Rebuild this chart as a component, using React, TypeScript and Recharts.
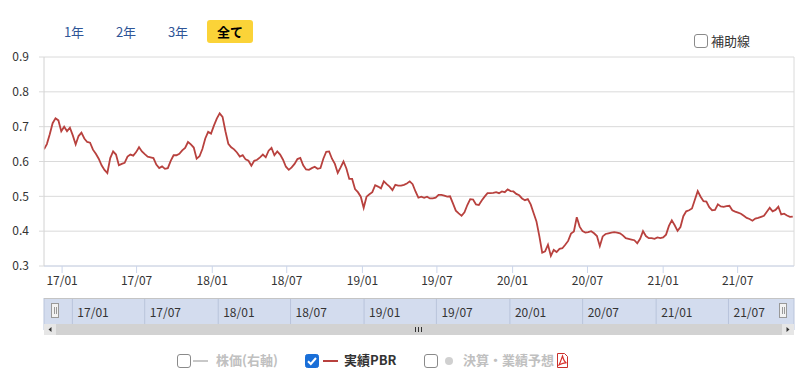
import { CartesianGrid, Line, LineChart, ReferenceLine, XAxis, YAxis } from 'recharts'

// weekly closing PBR, first point on START
const START = Date.UTC(2016, 10, 18)
const WEEK = 7 * 24 * 3600 * 1000

const PBR = [
  0.635, 0.65, 0.678, 0.71, 0.724, 0.718, 0.687, 0.7, 0.687, 0.697,
  0.675, 0.649, 0.673, 0.683, 0.666, 0.656, 0.654, 0.634, 0.622, 0.608,
  0.589, 0.576, 0.567, 0.61, 0.629, 0.62, 0.589, 0.593, 0.596, 0.614,
  0.62, 0.617, 0.627, 0.641, 0.629, 0.621, 0.614, 0.612, 0.61, 0.591,
  0.581, 0.586, 0.579, 0.581, 0.602, 0.618, 0.618, 0.622, 0.632, 0.639,
  0.656, 0.649, 0.64, 0.608, 0.615, 0.636, 0.666, 0.685, 0.68, 0.703,
  0.723, 0.738, 0.728, 0.687, 0.651, 0.641, 0.635, 0.626, 0.614, 0.618,
  0.606, 0.602, 0.588, 0.602, 0.605, 0.612, 0.62, 0.612, 0.631, 0.639,
  0.618, 0.629, 0.62, 0.605, 0.585, 0.576, 0.583, 0.593, 0.607, 0.61,
  0.589, 0.577, 0.576, 0.581, 0.585, 0.579, 0.581, 0.608, 0.628, 0.629,
  0.608, 0.593, 0.567, 0.583, 0.6, 0.58, 0.55, 0.55, 0.521, 0.512,
  0.499, 0.467, 0.499, 0.506, 0.512, 0.532, 0.528, 0.523, 0.543, 0.535,
  0.528, 0.518, 0.533, 0.531, 0.531, 0.533, 0.537, 0.543, 0.535, 0.514,
  0.496, 0.499, 0.496, 0.499, 0.494, 0.494, 0.496, 0.504, 0.504, 0.502,
  0.499, 0.5, 0.48, 0.459, 0.451, 0.444, 0.454, 0.475, 0.492, 0.491,
  0.477, 0.475, 0.488, 0.499, 0.509, 0.509, 0.51, 0.512, 0.509, 0.514,
  0.512, 0.52, 0.515, 0.514, 0.507, 0.503, 0.494, 0.489, 0.492, 0.477,
  0.452, 0.428, 0.386, 0.338, 0.342, 0.361, 0.329, 0.346, 0.34, 0.349,
  0.351, 0.361, 0.372, 0.393, 0.399, 0.44, 0.413, 0.4, 0.396, 0.397,
  0.4, 0.394, 0.386, 0.357, 0.385, 0.392, 0.394, 0.396, 0.397, 0.396,
  0.394, 0.388, 0.38, 0.378, 0.376, 0.374, 0.365, 0.378, 0.4, 0.386,
  0.38, 0.38, 0.378, 0.382, 0.38, 0.382, 0.39, 0.415, 0.431, 0.417,
  0.401, 0.412, 0.443, 0.457, 0.46, 0.465, 0.49, 0.515, 0.499, 0.486,
  0.485, 0.469, 0.46, 0.461, 0.477, 0.471, 0.47, 0.472, 0.473, 0.46,
  0.456, 0.453, 0.45, 0.444, 0.438, 0.435, 0.43, 0.436, 0.438, 0.441,
  0.444, 0.456, 0.467, 0.457, 0.461, 0.47, 0.448, 0.45, 0.445, 0.441, 0.442,
]

const Y_TICKS = [0.3, 0.4, 0.5, 0.6, 0.7, 0.8, 0.9]
const X_TICKS = [
  '2017-01-01', '2017-07-01', '2018-01-01', '2018-07-01', '2019-01-01',
  '2019-07-01', '2020-01-01', '2020-07-01', '2021-01-01', '2021-07-01',
]
const RANGES = ['1年', '2年', '3年', '全て']

const X_MIN = START
const X_MAX = Date.UTC(2021, 10, 15)
const NAV_MIN = Date.UTC(2016, 9, 22)
const NAV_MAX = Date.UTC(2021, 11, 12)

const data = PBR.map((v, i) => ({ t: START + i * WEEK, pbr: v }))
const xTicks = X_TICKS.map((d) => Date.parse(d + 'T00:00:00Z'))

const fmtMonth = (t: number) => {
  const d = new Date(t)
  return `${String(d.getUTCFullYear()).slice(2)}/${String(d.getUTCMonth() + 1).padStart(2, '0')}`
}

const FONT = '"Noto Sans CJK JP", "Noto Sans", sans-serif'

function Box({ checked, x, y }: { checked?: boolean; x: number; y: number }) {
  return (
    <svg width={14} height={14} style={{ position: 'absolute', left: x, top: y }}>
      {checked ? (
        <>
          <rect x={0.5} y={0.5} width={13} height={13} rx={2} fill="#1a6fd8" stroke="#1a6fd8" />
          <path d="M3 7.2 L5.8 10 L11 4" stroke="#fff" strokeWidth={2} fill="none" />
        </>
      ) : (
        <rect x={0.5} y={0.5} width={13} height={13} rx={2.5} fill="#fff" stroke="#8a8a8a" />
      )}
    </svg>
  )
}

export default function App() {
  return (
    <div
      style={{
        position: 'absolute',
        left: 0,
        top: 0,
        width: 800,
        height: 376,
        background: '#fff',
        fontFamily: FONT,
        overflow: 'hidden',
      }}
    >
      {/* range buttons */}
      {RANGES.map((r, i) => {
        const active = r === '全て'
        const left = [62, 114, 166, 207][i]
        return (
          <div
            key={r}
            style={{
              position: 'absolute',
              left,
              top: 20,
              width: active ? 46 : 24,
              height: 23,
              lineHeight: '23px',
              textAlign: 'center',
              fontSize: 13,
              borderRadius: 3,
              background: active ? '#fbd338' : 'transparent',
              color: active ? '#000' : '#2f5597',
              fontWeight: active ? 700 : 400,
            }}
          >
            {r}
          </div>
        )
      })}

      <Box x={694} y={34} />
      <div style={{ position: 'absolute', left: 711, top: 32, fontSize: 13, color: '#333', lineHeight: '18px' }}>
        補助線
      </div>

      <div style={{ position: 'absolute', left: 0, top: 0 }}>
        <LineChart width={800} height={300} data={data} margin={{ top: 57, right: 6, bottom: 4, left: 4 }}>
          <CartesianGrid vertical={false} stroke="#dadada" />
          <XAxis
            dataKey="t"
            type="number"
            domain={[X_MIN, X_MAX]}
            ticks={xTicks}
            interval={0}
            tickFormatter={fmtMonth}
            height={30}
            tickSize={7}
            tickMargin={3}
            stroke="#ccd6eb"
            tick={{ fill: '#333', fontSize: 12 }}
            allowDataOverflow
          />
          <YAxis
            domain={[0.3, 0.9]}
            ticks={Y_TICKS}
            width={40}
            tickSize={5}
            tickMargin={10}
            axisLine={{ stroke: '#d2d2d2' }}
            tickLine={{ stroke: '#dadada' }}
            tickFormatter={(v: number) => v.toFixed(1)}
            tick={{ fill: '#333', fontSize: 12 }}
          />
          <ReferenceLine x={X_MAX} stroke="#dadada" />
          <Line
            dataKey="pbr"
            type="linear"
            stroke="#b8413e"
            strokeWidth={1.8}
            dot={false}
            isAnimationActive={false}
          />
        </LineChart>
      </div>

      {/* navigator */}
      <div style={{ position: 'absolute', left: 0, top: 290 }}>
        <LineChart width={800} height={40} data={data} margin={{ top: 8, right: 6, bottom: 0, left: 44 }}>
          <CartesianGrid horizontal={false} fill="#d3dcee" fillOpacity={1} stroke="#b9c4db" />
          <XAxis
            dataKey="t"
            type="number"
            domain={[NAV_MIN, NAV_MAX]}
            ticks={xTicks}
            interval={0}
            tickFormatter={fmtMonth}
            height={6}
            axisLine={false}
            tickLine={false}
            tickSize={0}
            tickMargin={0}
            mirror
            tick={{ fill: '#333', fontSize: 12, textAnchor: 'start', dx: 5, dy: -13 }}
            allowDataOverflow
          />
          <YAxis hide domain={[0.3, 0.9]} />
          <Line dataKey="pbr" stroke="transparent" dot={false} isAnimationActive={false} />
        </LineChart>
      </div>
      <svg width={800} height={50} style={{ position: 'absolute', left: 0, top: 290 }}>
        <line x1={44} x2={794} y1={8.5} y2={8.5} stroke="#c4c4c4" />
        {/* handles */}
        <rect x={51.5} y={13.5} width={7} height={14} fill="#f2f2f2" stroke="#999" />
        <line x1={54.5} x2={54.5} y1={17} y2={24} stroke="#999" />
        <line x1={56.5} x2={56.5} y1={17} y2={24} stroke="#999" />
        <rect x={779.5} y={13.5} width={7} height={14} fill="#f2f2f2" stroke="#999" />
        <line x1={782.5} x2={782.5} y1={17} y2={24} stroke="#999" />
        <line x1={784.5} x2={784.5} y1={17} y2={24} stroke="#999" />
        {/* scrollbar */}
        <rect x={44} y={34} width={750} height={11} fill="#d2d2d2" />
        <rect x={44} y={34} width={12} height={11} fill="#e6e6e6" />
        <rect x={782} y={34} width={12} height={11} fill="#e6e6e6" />
        <path d="M48.5 39.5 L51.5 37 L51.5 42 Z" fill="#333" />
        <path d="M789.5 39.5 L786.5 37 L786.5 42 Z" fill="#333" />
        <line x1={415.5} x2={415.5} y1={37} y2={42} stroke="#333" />
        <line x1={418.5} x2={418.5} y1={37} y2={42} stroke="#333" />
        <line x1={421.5} x2={421.5} y1={37} y2={42} stroke="#333" />
      </svg>

      {/* legend */}
      <div style={{ position: 'absolute', left: 0, top: 350, width: 800, height: 20, fontSize: 13, fontWeight: 700 }}>
        <Box x={177} y={4} />
        <div style={{ position: 'absolute', left: 193, top: 10, width: 15, height: 2, background: '#c8c8c8' }} />
        <div style={{ position: 'absolute', left: 216, top: 1, color: '#c0c0c0', lineHeight: '18px' }}>株価(右軸)</div>

        <Box checked x={305} y={4} />
        <div style={{ position: 'absolute', left: 323, top: 10, width: 15, height: 2, background: '#b8413e' }} />
        <div style={{ position: 'absolute', left: 344, top: 1, color: '#333', lineHeight: '18px' }}>実績PBR</div>

        <Box x={424} y={4} />
        <div style={{ position: 'absolute', left: 445, top: 7, width: 8, height: 8, borderRadius: 4, background: '#d0d0d0' }} />
        <div style={{ position: 'absolute', left: 463, top: 1, color: '#c0c0c0', lineHeight: '18px' }}>決算・業績予想</div>
        <svg width={13} height={15} style={{ position: 'absolute', left: 556, top: 3 }}>
          <path d="M1.5 0.5 H8.5 L11.5 3.5 V14.5 H1.5 Z" fill="#fff" stroke="#c9302c" />
          <path d="M3 12 C5 8 6 4 6.5 3 C7 5 8 9 10.5 10 C7 9.5 5 11 3 12 Z" fill="none" stroke="#d9302c" strokeWidth={1.2} />
        </svg>
      </div>
    </div>
  )
}
